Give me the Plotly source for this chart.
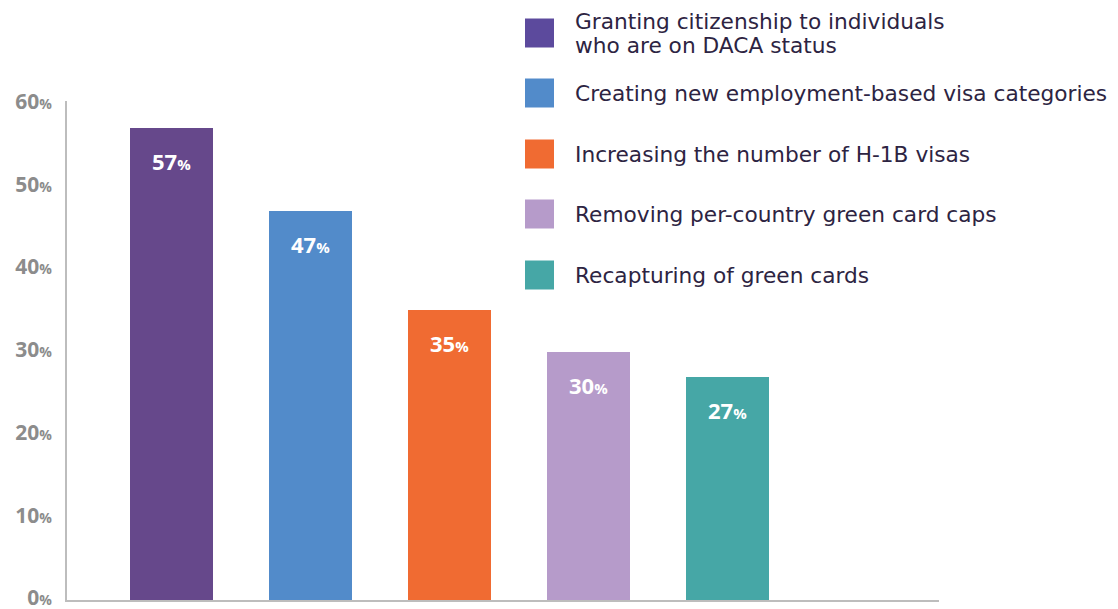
import plotly.graph_objects as go

# Survey results: support for immigration policy changes
categories = [
    "Granting citizenship to individuals<br>who are on DACA status",
    "Creating new employment-based visa categories",
    "Increasing the number of H-1B visas",
    "Removing per-country green card caps",
    "Recapturing of green cards",
]
values = [57, 47, 35, 30, 27]
colors = ["#66488b", "#528bca", "#f06b32", "#b69bca", "#46a7a6"]
legend_colors = ["#5c4a9d", "#528bca", "#f06b32", "#b69bca", "#46a7a6"]
tick_values = [0, 10, 20, 30, 40, 50, 60]

FONT = "Open Sans"
LEGEND_FONT = "DejaVu Sans"
W, H = 1118, 609
L, R, T, B = 67, 179, 101, 9
plot_w, plot_h = W - L - R, H - T - B

def px_to_paper(x, y):
    return (x - L) / plot_w, (H - B - y) / plot_h

fig = go.Figure()
positions = list(range(len(values)))
fig.add_trace(go.Bar(
    x=positions, y=values, width=0.6,
    marker=dict(color=colors, line=dict(width=0)),
    hoverinfo="skip", showlegend=False,
))

# value labels inside the bars
for xpos, v in zip(positions, values):
    fig.add_annotation(
        x=xpos, y=v, yanchor="top", yshift=-16, showarrow=False,
        text=f"<b>{v}</b><span style='font-size:15px'><b>%</b></span>",
        font=dict(family=FONT, size=22, color="white"),
    )

# custom legend: squares and labels (multi-line labels use tighter leading)
legend_y = [33, 93, 154, 214, 275]
LINE_GAP = 24
for name, c, cy in zip(categories, legend_colors, legend_y):
    x0, y0 = px_to_paper(525, cy + 14.5)
    x1, y1 = px_to_paper(554, cy - 14.5)
    fig.add_shape(type="rect", xref="paper", yref="paper",
                  x0=x0, x1=x1, y0=y0, y1=y1,
                  fillcolor=c, line=dict(width=0))
    lines = name.split("<br>")
    first = cy - LINE_GAP * (len(lines) - 1) / 2
    for i, line in enumerate(lines):
        tx, ty = px_to_paper(573, first + i * LINE_GAP)
        fig.add_annotation(xref="paper", yref="paper", x=tx, y=ty,
                           xanchor="left", yanchor="middle", align="left",
                           showarrow=False, text=line,
                           font=dict(family=LEGEND_FONT, size=21.7, color="#2d2442"))

tick_text = [f"<b>{t}</b><span style='font-size:14px'><b>%</b></span>" for t in tick_values]

fig.update_layout(
    width=W, height=H,
    margin=dict(l=L, r=R, t=T, b=B, pad=0),
    paper_bgcolor="white", plot_bgcolor="white",
    bargap=0,
    xaxis=dict(range=[-0.75, 5.52], showgrid=False, zeroline=False,
               showticklabels=False, ticks="", automargin=False,
               showline=True, linecolor="#bdbdbd", linewidth=2),
    yaxis=dict(range=[0, 60.3], showgrid=False, zeroline=False,
               tickvals=tick_values, ticktext=tick_text, ticks="",
               ticklabelstandoff=9, ticklabeloverflow="allow",
               ticklabelshift=-2, automargin=False,
               tickfont=dict(family=FONT, size=21, color="#8c8c8c"),
               showline=True, linecolor="#bdbdbd", linewidth=2),
)

fig.write_html("out.html")
